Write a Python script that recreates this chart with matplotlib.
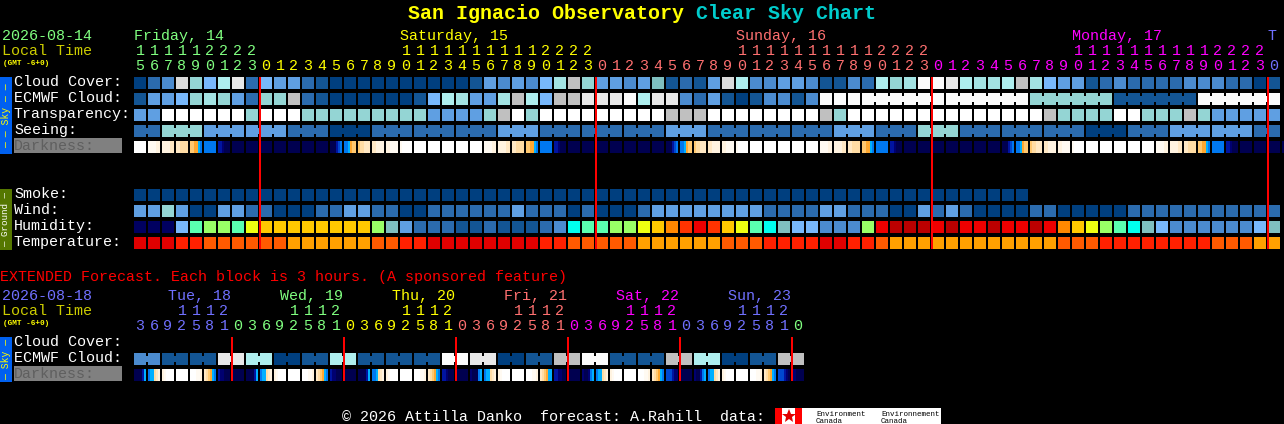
import matplotlib
matplotlib.use("Agg")
import matplotlib.pyplot as plt

# ---------- colours ----------
PALETTE = {
    'a': '#003F7F', 'b': '#135594', 'c': '#2B6BAE', 'd': '#4B8BCF', 'e': '#5F9FE2',
    'f': '#78B8FB', 'g': '#7FBFBF', 'h': '#94D5D4', 'm': '#A3E3E3', 'i': '#AEEEEE',
    'j': '#C0C0C0', 'n': '#DADADA', 'k': '#E8E8E8', 'l': '#FBFBFB', 'w': '#FFFFFF',
    'N': '#000060', 'q': '#5AFFB0', 'r': '#99FF66', 's': '#EEFF11', 't': '#FFC800',
    'u': '#FF8800', 'v': '#FF3300', 'R': '#EE0000', 'X': '#BB0000', 'y': '#00FFEE',
    'A': '#E00000', 'B': '#FF2000', 'C': '#FF5A00', 'D': '#FFA000',
}
DARK_PALETTE = {
    '0': '#FFFFFF', '1': '#FFFAF2', '2': '#FFF3E0', '3': '#FFE8C4', '4': '#FFDCA4',
    '5': '#FFC870', '6': '#FFA830', '7': '#00B0FF', '8': '#0078F0', '9': '#0048D0',
    'a': '#0014A0', 'b': '#000070', 'c': '#000050',
}

# ---------- main forecast (one letter per hourly block) ----------
cloud_cover = "acdnhfikc" "feecb" "aaaaaaa" "aaab" "ededfmjh" "eedegbcbeni" "ddeedbbdc" "ihmllkimmijm" "feebcdccccdddccab"
ecmwf_hourly = "beefhmhechhj" "cbaaaaaab" "fimeemjifjjkkklikk" "dcebabddbdlll"
ecmwf_runs = "llllll llllll hhhhhh bbbbbb llllll"
transparency = ("ee" "wwwwww" "h" "www" "hhhhhhhhh" "eeee" "hjwh" "wwwwwwwww" "jjj" "wwwwwwww" "jh"
                "wwwwwwwwwwwwww" "j" "hhhh" "ww" "hhh" "jh" "eeeee")
seeing_runs = ("cc hhh eee eee ccc aaa ccc ccc ccc eee ccc ccc ccc eee ccc ccc ccc eee ccc hhh "
               "ccc ccc ccc aaa ccc eee eee cc")
smoke = "aaaaaaaa" "aaaaaaaa" "aaaaaaaa" "aaaaaaaa" "aaaaaaaa" "aaaaaaaa" "aaaaaaaa" "aaaaaaaa"
wind = ("eeheaaeeccaaacceeccaa" "cccccceccc" "acaaaceeeeeeee" "cccc" "ee" "ccc" "aa" "ecec" "aaaa" "cc"
        "aaaaa" "ccccccccccc")
humidity = ("NNNfqrrqs" "tttttttt" "rgec" "ccbbcbbbcd" "yqqrrstuvRvtsqy" "gffddd" "r" "RXXXRXRRXRRXR"
            "utsrqygf" "dddddd" "fg")
temperature = ("AAABB" "CCCCCC" "DDDDDD" "CC" "BB" "AAAAAAAA" "BB" "CCCCC" "DDDDDD" "CCC" "BBBB" "AA" "BB" "C"
               "DDDDDDDDDDDD" "CCC" "BBBBBBBB" "CCC" "DD")
darkness = (
    "000000 111122 222233 334444 556678 888888 aabccc cccccc cccccc cccccc cccccc cccccc cccccc cccccc "
    "ccca98 887655 544333 332222 221111 100000 000000 000000 000000 000000 000000 111122 222233 334444 "
    "556678 888888 aabccc cccccc cccccc cccccc cccccc cccccc cccccc cccccc ccca98 887655 544333 332222 "
    "221111 100000 000000 000000 000000 000000 000000 111122 222233 334444 556678 888888 aabccc cccccc "
    "cccccc cccccc cccccc cccccc cccccc cccccc ccca98 887655 544333 332222 221111 100000 000000 000000 "
    "000000 000000 000000 111122 222233 334444 556678 888888 aabccc cccccc cccccc cccccc cccccc cccccc "
    "cccccc cccccc"
).split()
row_labels = ["Cloud Cover:", "ECMWF Cloud:", "Transparency:", "Seeing:", "Darkness:"]
ground_labels = ["Smoke:", "Wind:", "Humidity:", "Temperature:"]

hour_units = [("567890123", '#80FF80'), ("012345678901234567890123", '#FFFF00'),
              ("012345678901234567890123", '#FF7070'), ("012345678901234567890123", '#FF00FF'), ("0", '#7070FF')]
hour_tens = ["111112222", "          11111111112222", "          11111111112222", "          11111111112222", " "]
day_labels = [("Friday, 14", 0, '#80FF80'), ("Saturday, 15", 19, '#FFFF00'), ("Sunday, 16", 43, '#FF7070'),
              ("Monday, 17", 67, '#FF00FF'), ("T", 81, '#7070FF')]
midnights = [9, 33, 57, 81]

# ---------- extended forecast ----------
ext_ecmwf_runs = "dd bb bb kk ii aa bb ii bb bb bb ll kk aa bb jj ll bb bb jj ii aa bb jj"
ext_darkness = (
    "cccca7 877432 210000 000000 000112 345678 abbccc cccccc "
    "cccca7 877432 210000 000000 000112 345678 abbccc cccccc "
    "cccca7 887432 210000 000000 000112 345678 aabccc cccccc "
    "bccc87 877432 210000 000000 000112 345677 aabbcc cccccc "
    "bccb87 877432 210000 000000 000112 345678 999abb cccccc "
    "bcca87 877432 210000 000000 000112 345678 999abc bbcccc"
).split()
ext_units = [("3692581", '#7070FF'), ("03692581", '#80FF80'), ("03692581", '#FFFF00'), ("03692581", '#FF7070'),
             ("03692581", '#FF00FF'), ("03692581", '#7070FF'), ("0", '#80FF80')]
ext_tens = ["   1112", "    1112", "    1112", "    1112", "    1112", "    1112", " "]
ext_days = [("Tue, 18", '#7070FF'), ("Wed, 19", '#80FF80'), ("Thu, 20", '#FFFF00'), ("Fri, 21", '#FF7070'),
            ("Sat, 22", '#FF00FF'), ("Sun, 23", '#7070FF')]
ext_midnights = [7, 15, 23, 31, 39, 47]

# ---------- layout (pixels) ----------
W, H = 1284, 424
LEFT, PITCH, BLOCK = 134, 14, 12
SKY_TOP, GROUND_TOP, EXT_TOP = 77, 189, 353
ROW_PITCH = 16
FONT, BOLD = 'Liberation Mono', 'bold'
MAIN_SIZE = 10.8

fig = plt.figure(figsize=(W / 100, H / 100), dpi=100, facecolor='black')
ax = fig.add_axes([0, 0, 1, 1], facecolor='black')
ax.set_xlim(0, W)
ax.set_ylim(H, 0)
ax.axis('off')


def txt(x, y, s, color='white', size=MAIN_SIZE, weight='normal', **kw):
    return ax.text(x, y, s, color=color, fontsize=size, family=FONT, weight=weight, va='baseline', **kw)


def block_x(i):
    return LEFT + PITCH * i


def rect(x, top, width, height, color, z=2):
    ax.bar(x, height, width=width, bottom=top, align='edge', color=color, linewidth=0, antialiased=False, zorder=z)


def draw_runs(runs, top):
    """Each run is a group of equal blocks; blocks in a group are joined by a neck."""
    i = 0
    for run in runs:
        for j, code in enumerate(run):
            rect(block_x(i), top, BLOCK, BLOCK, PALETTE[code])
            if j < len(run) - 1:
                rect(block_x(i) + BLOCK, top + 3, PITCH - BLOCK, BLOCK - 6, PALETTE[code])
            i += 1


def draw_stripes(blocks, top):
    for i, stripes in enumerate(blocks):
        w = BLOCK / len(stripes)
        for j, code in enumerate(stripes):
            rect(block_x(i) + j * w, top, w, BLOCK, DARK_PALETTE[code])


def draw_hours(units, tens, base_units, base_tens):
    i = 0
    for (digits, color), tn in zip(units, tens):
        for j, d in enumerate(digits):
            txt(block_x(i) + BLOCK / 2, base_units, d, color=color, ha='center')
            if j < len(tn) and tn[j] != ' ':
                txt(block_x(i) + BLOCK / 2, base_tens, tn[j], color=color, ha='center')
            i += 1


# title
txt(408, 19, "San Ignacio Observatory", color='#FFFF00', size=14.4, weight=BOLD)
txt(696, 19, "Clear Sky Chart", color='#00CCCC', size=14.4, weight=BOLD)

# header
txt(2, 40, "2026-08-14", color='#80FF80')
txt(2, 55, "Local Time", color='#CCCC00')
txt(3, 65, "(GMT -6+0)", color='#FFFF00', size=5.6, weight=BOLD)
for s, i, c in day_labels:
    txt(block_x(i), 40, s, color=c)
draw_hours(hour_units, hour_tens, 70, 55)

# side bars
rect(0, SKY_TOP, 12, 77, '#0060F0')
ax.text(6, SKY_TOP + 38.5, "\u2014 \u2014 Sky \u2014 \u2014", color='#FFFF00', fontsize=7, family=FONT, rotation=90, ha='center', va='center', zorder=3)
rect(0, GROUND_TOP, 12, 61, '#557700')
ax.text(6, GROUND_TOP + 30.5, "\u2014 Ground \u2014", color='white', fontsize=6.6, family=FONT, rotation=90, ha='center', va='center', zorder=3)
rect(0, EXT_TOP - 16, 12, 45, '#0060F0')
ax.text(6, EXT_TOP + 6, "\u2014 Sky \u2014", color='#FFFF00', fontsize=7, family=FONT, rotation=90, ha='center', va='center', zorder=3)

# row labels
for k, lab in enumerate(row_labels[:4]):
    txt(14, SKY_TOP + 9 + k * ROW_PITCH, lab)
rect(14, SKY_TOP + 61, 108, 15, '#808080')
txt(14, SKY_TOP + 73, row_labels[4], color='#5F5F5F', zorder=3)
for k, lab in enumerate(ground_labels):
    txt(14, GROUND_TOP + 9 + k * ROW_PITCH, lab)

# main sky rows
draw_runs(list(cloud_cover), SKY_TOP)
draw_runs(list(ecmwf_hourly) + ecmwf_runs.split(), SKY_TOP + ROW_PITCH)
draw_runs(list(transparency), SKY_TOP + 2 * ROW_PITCH)
draw_runs(seeing_runs.split(), SKY_TOP + 3 * ROW_PITCH)
draw_stripes(darkness, SKY_TOP + 4 * ROW_PITCH)

# ground rows
for k, series in enumerate([smoke, wind, humidity, temperature]):
    draw_runs(list(series), GROUND_TOP + k * ROW_PITCH)

for i in midnights:
    rect(block_x(i) - 1, SKY_TOP, 2, 172, '#FF0000', z=4)

# extended section
txt(0, 281, "EXTENDED Forecast. Each block is 3 hours. (A sponsored feature)", color='#FF0000')
txt(2, 300, "2026-08-18", color='#7070FF')
txt(2, 315, "Local Time", color='#CCCC00')
txt(3, 325, "(GMT -6+0)", color='#FFFF00', size=5.6, weight=BOLD)
for k, (s, c) in enumerate(ext_days):
    txt(168 + 8 * PITCH * k, 300, s, color=c)
draw_hours(ext_units, ext_tens, 330, 315)

txt(14, EXT_TOP - 7, row_labels[0])
txt(14, EXT_TOP + 9, row_labels[1])
rect(14, EXT_TOP + 13, 108, 15, '#808080')
txt(14, EXT_TOP + 25, row_labels[4], color='#5F5F5F', zorder=3)

draw_runs(ext_ecmwf_runs.split(), EXT_TOP)
draw_stripes(ext_darkness, EXT_TOP + ROW_PITCH)
for i in ext_midnights:
    rect(block_x(i) - 1, EXT_TOP - 16, 2, 44, '#FF0000', z=4)

# footer
txt(342, 421, "\u00a9 2026 Attilla Danko  forecast: A.Rahill  data:")
rect(775, 408, 166, 16, '#FFFFFF')
rect(775, 408, 7, 16, '#FF0000', z=3)
rect(795, 408, 7, 16, '#FF0000', z=3)
ax.plot([788.5], [416], marker='*', color='#E00000', markersize=10, markeredgewidth=0, zorder=3)
txt(816, 416, "Environment", color='black', size=5.4, zorder=3)
txt(816, 423, "Canada", color='black', size=5.4, zorder=3)
txt(881, 416, "Environnement", color='black', size=5.4, zorder=3)
txt(881, 423, "Canada", color='black', size=5.4, zorder=3)

fig.savefig("out.png", dpi=100, facecolor='black')
